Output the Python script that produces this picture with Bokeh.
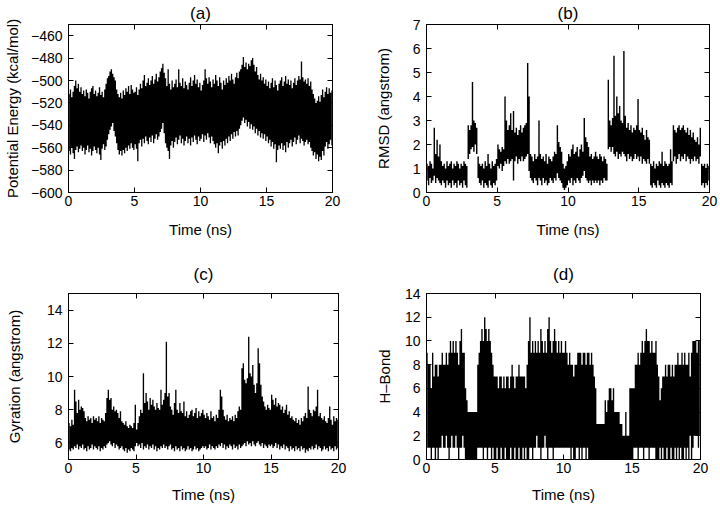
import math
from bokeh.plotting import figure
from bokeh.layouts import column, row
from bokeh.models import LinearAxis, SingleIntervalTicker, Range1d, ColumnDataSource
from bokeh.embed import file_html
from bokeh.resources import INLINE

FONT = "Liberation Sans"
BIN = 0.1  # ns covered by each read-off (max, min) pair

x_label = "Time (ns)"
titles = ["(a)", "(b)", "(c)", "(d)"]
y_labels = ["Potential Energy (kcal/mol)", "RMSD (angstrom)", "Gyration (angstrom)", "H\u2013Bond"]

# ---- (a) potential energy: upper / lower envelope per 0.1 ns ----
energy_hi = [
    -512, -508, -515, -510, -505, -500, -507, -503, -510, -506,
    -512, -509, -514, -508, -511, -516, -510, -507, -505, -512,
    -509, -514, -511, -506, -513, -510, -515, -508, -503, -498,
    -496, -492, -490, -494, -497, -500, -508, -512, -515, -511,
    -516, -509, -513, -507, -510, -505, -512, -504, -508, -511,
    -510, -506, -513, -508, -503, -507, -500, -495, -505, -502,
    -498, -504, -500, -496, -503, -499, -494, -501, -497, -492,
    -489, -485, -493, -498, -505, -490, -503, -508, -500, -506,
    -503, -499, -506, -490, -502, -505, -498, -507, -501, -504,
    -508, -502, -497, -505, -500, -495, -503, -499, -506, -502,
    -509, -504, -500, -490, -498, -503, -497, -501, -506, -499,
    -503, -495, -500, -505, -497, -502, -508, -500, -504, -498,
    -502, -496, -500, -494, -499, -503, -497, -493, -498, -492,
    -490, -486, -479, -488, -484, -490, -485, -487, -482, -480,
    -486, -492, -488, -495, -499, -494, -500, -497, -503, -499,
    -505, -501, -507, -502, -498, -506, -500, -504, -509, -503,
    -500, -497, -505, -501, -496, -503, -499, -504, -500, -507,
    -502, -498, -504, -500, -496, -499, -483, -497, -501, -499,
    -503, -498, -505, -501, -508, -512, -516, -520, -518, -514,
    -519, -513, -508, -515, -510, -506, -512, -507, -511, -509,
]
energy_lo = [
    -563, -566, -560, -565, -570, -562, -559, -564, -561, -558,
    -563, -560, -566, -562, -558, -564, -561, -567, -563, -559,
    -562, -565, -560, -566, -571, -561, -557, -562, -559, -553,
    -548, -544, -541, -538, -545, -550, -556, -562, -566, -563,
    -567, -562, -565, -560, -563, -558, -561, -556, -560, -562,
    -557, -561, -572, -556, -553, -559, -552, -556, -550, -554,
    -557, -551, -555, -549, -556, -552, -548, -553, -550, -546,
    -543, -538, -547, -556, -560, -563, -570, -558, -554, -560,
    -555, -551, -557, -553, -549, -556, -552, -558, -554, -550,
    -556, -552, -558, -551, -555, -549, -553, -557, -550, -554,
    -552, -548, -555, -549, -553, -547, -551, -556, -550, -554,
    -557, -560, -556, -565, -558, -555, -561, -554, -558, -552,
    -556, -550, -554, -548, -552, -546, -550, -545, -549, -543,
    -540, -536, -533, -538, -535, -541, -537, -543, -539, -544,
    -541, -547, -543, -549, -545, -551, -547, -552, -548, -554,
    -550, -556, -553, -559, -555, -561, -557, -573, -562, -558,
    -561, -556, -562, -558, -564, -555, -560, -556, -553, -559,
    -555, -551, -557, -553, -549, -556, -552, -554, -558, -555,
    -553, -557, -555, -560, -563, -567, -564, -570, -566, -572,
    -568, -571, -563, -567, -559, -555, -561, -557, -553, -558,
]

# ---- (b) RMSD ----
rmsd_hi = [
    1.2, 1.1, 1.3, 1.2, 1.0, 2.7, 1.6, 2.2, 1.5, 2.0,
    1.3, 1.1, 1.2, 1.0, 1.3, 1.1, 1.2, 1.3, 1.0, 1.2,
    1.1, 1.3, 1.2, 1.0, 1.2, 1.1, 1.3, 1.2, 1.1, 2.8,
    2.6, 2.8, 4.6, 3.0, 2.9, 2.7, 1.5, 1.2, 1.1, 1.2,
    1.0, 1.3, 1.1, 1.6, 1.2, 1.0, 1.3, 1.1, 1.2, 1.4,
    2.0, 1.8, 1.7, 1.9, 1.8, 4.0, 3.0, 2.6, 2.8, 3.3,
    2.6, 3.4, 2.5, 2.7, 2.4, 2.6, 2.8, 2.5, 2.7, 2.8,
    2.9, 5.4, 4.0, 1.6, 1.5, 1.3, 1.6, 1.4, 1.5, 3.0,
    1.6, 1.4, 1.5, 1.3, 1.6, 1.2, 1.5, 1.4, 1.3, 1.5,
    1.7, 1.6, 2.8, 2.1, 1.9, 1.7, 1.2, 1.0, 1.1, 1.3,
    1.6, 1.5, 1.8, 2.0, 1.6, 1.7, 1.9, 1.5, 1.8, 2.0,
    1.7, 3.1, 2.3, 2.1, 1.9, 1.5, 1.6, 1.4, 1.5, 1.7,
    1.5, 1.4, 1.6, 1.5, 1.3, 1.5, 1.4, 1.2, 4.7, 3.0,
    2.8, 3.1, 5.7, 3.2, 4.0, 3.3, 3.6, 3.0, 2.9, 5.9,
    3.2, 2.7, 2.9, 2.6, 2.8, 2.5, 2.7, 2.6, 2.8, 3.9,
    2.6, 2.5, 2.7, 2.4, 2.2, 2.6, 2.3, 2.2, 1.2, 1.1,
    1.3, 1.0, 1.2, 1.1, 1.3, 1.2, 1.7, 1.1, 1.3, 1.2,
    1.1, 1.2, 1.8, 1.3, 2.8, 2.6, 2.5, 2.7, 2.8, 2.6,
    2.7, 2.8, 2.6, 2.5, 2.7, 2.4, 2.6, 2.3, 2.5, 2.2,
    2.1, 2.3, 2.0, 2.7, 1.2, 1.1, 1.2, 1.0, 1.2, 1.1,
]
rmsd_lo = [
    0.5, 0.3, 0.6, 0.4, 0.5, 0.7, 0.4, 0.6, 0.5, 0.4,
    0.3, 0.5, 0.4, 0.2, 0.5, 0.3, 0.4, 0.2, 0.5, 0.3,
    0.4, 0.2, 0.5, 0.3, 0.4, 0.2, 0.5, 0.3, 0.2, 1.4,
    1.6, 1.8, 1.9, 1.7, 2.0, 1.6, 0.6, 0.4, 0.3, 0.5,
    0.2, 0.4, 0.3, 0.2, 0.5, 0.3, 0.2, 0.4, 0.3, 0.5,
    1.1, 1.0, 1.2, 0.9, 1.1, 1.3, 1.2, 1.4, 1.2, 1.3,
    1.4, 0.5, 1.3, 1.5, 1.2, 1.4, 1.3, 1.5, 1.3, 1.4,
    1.5, 1.6, 0.9, 0.6, 0.5, 0.4, 0.6, 0.5, 0.3, 0.6,
    0.5, 0.3, 0.6, 0.4, 0.5, 0.3, 0.4, 0.6, 0.5, 0.4,
    0.6, 0.5, 0.8, 0.6, 0.5, 0.4, 0.2, 0.1, 0.2, 0.3,
    0.5, 0.4, 0.6, 0.3, 0.5, 0.4, 0.6, 0.5, 0.4, 0.6,
    0.7, 0.9, 0.6, 0.5, 0.4, 0.5, 0.3, 0.5, 0.4, 0.5,
    0.4, 0.5, 0.3, 0.5, 0.4, 0.6, 0.5, 0.5, 1.8, 1.9,
    1.7, 1.9, 1.6, 1.5, 1.7, 1.4, 1.6, 1.5, 1.7, 1.6,
    1.5, 1.3, 1.6, 1.4, 1.5, 1.3, 1.4, 1.6, 1.4, 1.5,
    1.3, 1.5, 1.2, 1.4, 1.3, 1.2, 1.4, 1.2, 0.3, 0.2,
    0.4, 0.3, 0.2, 0.5, 0.3, 0.2, 0.4, 0.3, 0.2, 0.4,
    0.3, 0.2, 0.4, 0.3, 1.3, 1.5, 1.2, 1.4, 1.6, 1.3,
    1.5, 1.4, 1.6, 1.3, 1.5, 1.4, 1.2, 1.4, 1.3, 1.5,
    1.3, 1.4, 1.2, 1.5, 0.3, 0.4, 0.2, 0.4, 0.3, 0.5,
]

# ---- (c) radius of gyration ----
gyr_hi = [
    7.2, 7.0, 7.4, 7.1, 9.2, 8.5, 7.8, 8.6, 8.0, 8.2,
    8.1, 7.9, 7.5, 7.3, 7.6, 7.4, 7.5, 7.2, 7.6, 7.4,
    7.5, 7.3, 7.6, 7.2, 7.5, 7.4, 7.3, 7.8, 8.7, 9.2,
    8.6, 8.7, 8.0, 8.2, 7.9, 8.0, 7.8, 7.5, 7.9, 7.3,
    7.2, 7.1, 7.3, 7.0, 6.9, 7.1, 7.0, 6.9, 7.2, 8.3,
    6.8, 7.2, 7.6, 8.0, 7.8, 10.2, 8.4, 9.0, 8.5, 8.0,
    8.7, 8.3, 8.6, 8.2, 8.0, 8.4, 8.1, 8.0, 9.2, 8.3,
    8.6, 9.0, 12.1, 8.8, 9.0, 8.2, 8.0, 7.7, 8.4, 9.2,
    8.0, 7.8, 8.4, 7.9, 7.8, 8.5, 7.6, 7.9, 7.5, 7.7,
    7.9, 8.0, 7.6, 7.8, 8.1, 7.5, 7.9, 7.6, 7.8, 8.0,
    7.7, 7.5, 7.8, 7.6, 7.4, 7.9, 7.5, 7.6, 7.3, 7.7,
    7.5, 8.0, 9.2, 8.8, 8.0, 7.6, 7.4, 7.7, 7.3, 7.5,
    7.4, 7.6, 7.3, 7.7, 7.5, 7.9, 8.2, 8.0, 10.5, 10.8,
    9.8, 9.6, 9.9, 12.4, 10.2, 10.0, 10.7, 9.5, 9.0, 9.6,
    11.7, 10.8, 9.5, 8.8, 8.5, 8.2, 8.0, 8.3, 8.1, 8.0,
    8.9, 8.6, 8.3, 8.7, 8.2, 8.4, 8.3, 8.0, 8.2, 7.8,
    8.0, 8.3, 7.7, 7.9, 7.5, 7.6, 7.4, 7.3, 7.5, 7.2,
    7.4, 7.1, 7.5, 7.3, 7.6, 7.8, 7.5, 9.4, 8.0, 7.8,
    7.6, 8.0, 7.9, 8.2, 9.2, 7.6, 7.8, 7.5, 7.4, 7.6,
    7.3, 7.2, 7.5, 8.2, 7.4, 7.1, 7.6, 7.3, 7.5, 7.4,
]
gyr_lo = [
    5.6, 5.5, 5.7, 5.6, 5.8, 5.7, 5.9, 5.6, 5.8, 5.7,
    5.9, 5.6, 5.7, 5.5, 5.8, 5.6, 5.7, 5.9, 5.6, 5.8,
    5.7, 5.6, 5.8, 5.5, 5.7, 5.6, 5.8, 5.7, 5.9, 6.0,
    6.1, 5.9, 5.8, 6.0, 5.7, 5.9, 5.8, 5.6, 5.7, 5.8,
    5.6, 5.5, 5.7, 5.4, 5.6, 5.5, 5.7, 5.6, 5.5, 5.8,
    6.0, 5.8, 5.9, 5.7, 6.0, 5.6, 5.8, 5.7, 5.9, 5.6,
    5.8, 5.7, 5.9, 5.6, 5.8, 5.5, 5.7, 5.6, 5.8, 5.7,
    5.9, 5.7, 5.8, 5.6, 5.8, 5.9, 5.6, 5.7, 5.5, 5.8,
    5.6, 5.7, 5.5, 5.8, 5.6, 5.7, 5.5, 5.6, 5.8, 5.6,
    5.7, 5.5, 5.6, 5.8, 5.6, 5.7, 5.5, 5.6, 5.7, 5.8,
    5.7, 5.8, 5.6, 5.7, 5.9, 5.6, 5.8, 5.7, 5.6, 5.8,
    5.7, 5.9, 5.8, 6.0, 5.7, 5.9, 5.6, 5.8, 5.7, 5.9,
    5.8, 5.6, 5.9, 5.7, 5.8, 5.6, 5.9, 5.7, 5.8, 5.9,
    6.0, 5.8, 6.1, 5.9, 6.0, 5.8, 6.1, 5.9, 5.8, 6.0,
    6.1, 5.9, 5.8, 6.0, 5.7, 5.9, 5.8, 5.7, 5.9, 5.8,
    5.9, 5.7, 5.8, 6.0, 5.7, 5.9, 5.6, 5.8, 5.7, 5.9,
    5.6, 5.8, 5.7, 5.5, 5.8, 5.6, 5.7, 5.5, 5.8, 5.6,
    5.7, 5.5, 5.8, 5.6, 5.7, 5.4, 5.6, 5.5, 5.7, 5.6,
    5.8, 5.6, 5.7, 5.9, 5.6, 5.8, 5.7, 5.5, 5.6, 5.8,
    5.6, 5.7, 5.5, 5.8, 5.6, 5.7, 5.5, 5.8, 5.6, 5.7,
]

# ---- (d) number of hydrogen bonds ----
hbond_hi = [
    9, 8, 8, 6, 9, 7, 8, 8, 7, 8,
    8, 9, 8, 8, 9, 8, 9, 10, 9, 10,
    9, 10, 9, 8, 10, 11, 9, 9, 6, 5,
    4, 4, 4, 4, 4, 4, 4, 8, 9, 10,
    11, 10, 12, 11, 10, 11, 10, 9, 8, 7,
    7, 7, 6, 7, 7, 6, 7, 6, 7, 7,
    6, 7, 8, 7, 6, 7, 7, 8, 7, 7,
    7, 7, 6, 8, 10, 12, 9, 10, 9, 10,
    9, 10, 9, 11, 10, 9, 10, 9, 11, 12,
    10, 9, 10, 11, 10, 9, 10, 9, 10, 9,
    9, 10, 9, 8, 9, 8, 8, 7, 8, 8,
    9, 9, 9, 8, 9, 9, 8, 9, 9, 8,
    9, 8, 7, 6, 3, 3, 3, 3, 3, 3,
    5, 4, 5, 6, 6, 5, 6, 4, 4, 4,
    4, 3, 3, 2, 2, 4, 2, 2, 6, 6,
    6, 6, 8, 8, 9, 8, 9, 10, 9, 10,
    11, 10, 10, 9, 10, 9, 9, 10, 8, 7,
    5, 6, 7, 7, 8, 7, 8, 8, 7, 8,
    7, 8, 8, 9, 8, 8, 9, 8, 9, 8,
    8, 9, 7, 9, 10, 10, 10, 9, 10, 10,
]
hbond_lo = [
    1, 1, 1, 0, 1, 1, 0, 1, 0, 1,
    1, 2, 1, 1, 2, 1, 0, 1, 2, 1,
    1, 2, 1, 0, 1, 1, 2, 1, 0, 0,
    0, 0, 0, 0, 0, 0, 0, 1, 1, 1,
    1, 0, 1, 1, 0, 1, 1, 0, 1, 0,
    0, 1, 0, 0, 1, 0, 0, 1, 0, 0,
    0, 1, 0, 0, 1, 0, 0, 1, 0, 0,
    1, 0, 1, 0, 0, 1, 1, 0, 1, 1,
    2, 1, 1, 0, 1, 1, 2, 1, 0, 1,
    1, 1, 0, 1, 1, 1, 1, 1, 1, 1,
    1, 1, 1, 1, 1, 0, 1, 0, 0, 1,
    1, 0, 1, 0, 1, 1, 0, 1, 0, 0,
    0, 0, 0, 0, 0, 0, 0, 0, 0, 0,
    0, 0, 0, 0, 0, 0, 0, 0, 0, 0,
    0, 0, 0, 0, 0, 0, 0, 0, 0, 0,
    0, 1, 1, 1, 0, 1, 1, 1, 0, 1,
    1, 1, 0, 1, 1, 1, 1, 0, 0, 0,
    1, 0, 1, 0, 0, 1, 0, 0, 1, 0,
    0, 1, 0, 1, 0, 1, 0, 0, 1, 0,
    1, 0, 2, 0, 1, 2, 2, 2, 1, 2,
]


def bin_centers(n):
    return [round(BIN * i + BIN / 2, 3) for i in range(n)]


def tick_values(start, end, step):
    first = math.ceil(start / step) * step
    vals = []
    v = first
    while v <= end + 1e-9:
        vals.append(int(round(v)))
        v += step
    return vals


def style_axis(ax, labelled, ticks):
    ax.major_tick_in = 5
    ax.major_tick_out = 0
    ax.minor_tick_line_color = None
    ax.axis_line_color = "black"
    ax.axis_line_width = 1
    ax.major_tick_line_color = "black"
    ax.major_label_text_font = FONT
    ax.major_label_text_font_size = "14px"
    ax.major_label_text_color = "black"
    ax.axis_label_text_font = FONT
    ax.axis_label_text_font_size = "15px"
    ax.axis_label_text_font_style = "normal"
    ax.axis_label_text_color = "black"
    if not labelled:
        ax.major_label_overrides = {v: "" for v in ticks}
        ax.major_label_text_font_size = "0px"
        ax.major_label_standoff = 0


def make_panel(idx, y_start, y_end, y_step, hi, lo, width, height,
               b_left, b_right, b_top, b_bottom, ylab_standoff,
               title_gap, xlab_standoff):
    p = figure(width=width, height=height,
               x_range=Range1d(0, 20), y_range=Range1d(y_start, y_end),
               output_backend="svg", toolbar_location=None,
               min_border_left=b_left, min_border_right=b_right,
               min_border_top=b_top, min_border_bottom=b_bottom)
    p.xgrid.visible = False
    p.ygrid.visible = False
    p.outline_line_color = "black"
    p.outline_line_width = 1
    p.background_fill_color = "white"
    p.border_fill_color = "white"

    n = min(len(hi), len(lo))
    src = ColumnDataSource(dict(t=bin_centers(n), hi=hi[:n], lo=lo[:n]))
    p.varea_step(x="t", y1="lo", y2="hi", step_mode="center", source=src,
                 fill_color="black")

    x_ticks = tick_values(0, 20, 5)
    y_ticks = tick_values(y_start, y_end, y_step)

    p.xaxis.ticker = SingleIntervalTicker(interval=5, num_minor_ticks=0)
    p.yaxis.ticker = SingleIntervalTicker(interval=y_step, num_minor_ticks=0)
    p.xaxis.axis_label = x_label
    p.yaxis.axis_label = y_labels[idx]
    for ax in p.xaxis:
        style_axis(ax, True, x_ticks)
        ax.major_label_standoff = 3
        ax.axis_label_standoff = xlab_standoff
    for ax in p.yaxis:
        style_axis(ax, True, y_ticks)
        ax.major_label_standoff = 6
        ax.axis_label_standoff = ylab_standoff

    # top axis: inward ticks only, and the panel letter as its label
    top_ax = LinearAxis(ticker=SingleIntervalTicker(interval=5, num_minor_ticks=0))
    style_axis(top_ax, False, x_ticks)
    top_ax.axis_label = titles[idx]
    top_ax.axis_label_text_font_size = "17px"
    top_ax.axis_label_standoff = title_gap
    p.add_layout(top_ax, "above")
    right_ax = LinearAxis(ticker=SingleIntervalTicker(interval=y_step, num_minor_ticks=0))
    style_axis(right_ax, False, y_ticks)
    p.add_layout(right_ax, "right")
    return p


pa = make_panel(0, -600, -450, 20, energy_hi, energy_lo, 360, 253, 68, 28, 24, 61, 7, 2, 12)
pb = make_panel(1, 0, 7, 1, rmsd_hi, rmsd_lo, 360, 253, 66, 11, 24, 61, 18, 2, 12)
pc = make_panel(2, 5, 15, 2, gyr_hi, gyr_lo, 360, 253, 68, 22, 40, 47, 21, 10, 10)
pd = make_panel(3, 0, 14, 2, hbond_hi, hbond_lo, 360, 253, 66, 20, 40, 47, 9, 10, 10)

layout = column(row(pa, pb), row(pc, pd))

with open("out.html", "w") as f:
    f.write(file_html(layout, INLINE))
